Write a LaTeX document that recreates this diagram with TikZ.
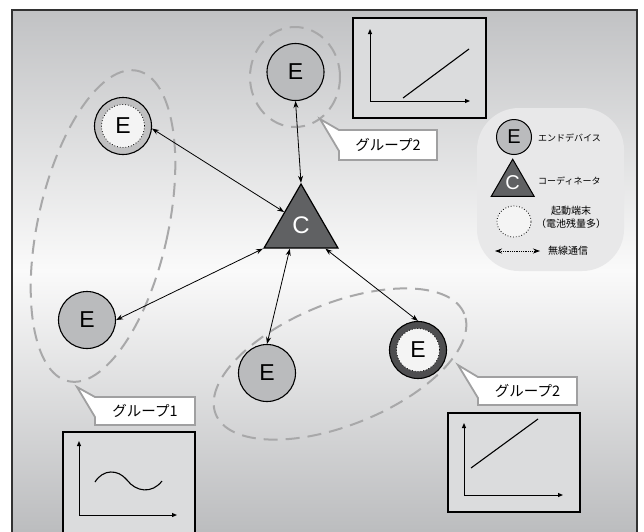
\documentclass[tikz,border=0pt]{standalone}
\usepackage{fontspec}
\setmainfont{Liberation Sans}
\newfontfamily\jpf{Noto Sans CJK JP}
\usetikzlibrary{arrows.meta,shapes.geometric}
\definecolor{bgtop}{RGB}{193,194,196}
\definecolor{bgmid}{RGB}{250,250,250}
\definecolor{bgbot}{RGB}{188,189,191}
\definecolor{framecol}{RGB}{50,50,50}
\definecolor{egray}{RGB}{186,187,189}
\definecolor{ringlight}{RGB}{192,192,193}
\definecolor{ringdark}{RGB}{78,78,80}
\definecolor{innerw}{RGB}{244,244,244}
\definecolor{tri}{RGB}{96,97,99}
\definecolor{blob}{RGB}{232,232,233}
\definecolor{dashc}{RGB}{168,168,169}
\definecolor{callc}{RGB}{160,160,161}
\definecolor{boxfill}{RGB}{219,220,221}
\newcommand\Efnt{\fontsize{23}{23}\selectfont}
\newcommand\Cfnt{\fontsize{24}{24}\selectfont}
\newcommand\LEfnt{\fontsize{20}{20}\selectfont}
\newcommand\Lblfnt{\jpf\fontsize{14.5}{15}\selectfont}
\newcommand\Legfnt{\jpf\fontsize{9}{10}\selectfont}
\newcommand\Legfntb{\jpf\fontsize{10}{13}\selectfont}
\begin{document}
\begin{tikzpicture}[x=1pt,y=-1pt,
  enode/.style={circle,draw,line width=1.1pt,minimum size=57pt,inner sep=0pt,fill=egray,font=\Efnt},
  ringlt/.style={enode,fill=ringlight},
  ringdk/.style={enode,fill=ringdark},
  innernode/.style={circle,draw,dotted,line width=0.8pt,minimum size=43pt,inner sep=0pt,fill=innerw,font=\Efnt},
  conn/.style={{Stealth[length=7pt,width=5pt]}-{Stealth[length=7pt,width=5pt]},line width=0.8pt},
  grp/.style={draw=dashc,line width=2pt,dash pattern=on 14pt off 8pt},
  callout/.style={fill=white,draw=callc,line width=1.8pt,line join=miter},
  lbl/.style={font=\Lblfnt,inner sep=0pt},
  gbox/.style={draw=black,line width=1.2pt,fill=boxfill},
  axis/.style={-{Triangle[length=5pt,width=4pt]},line width=1pt},
  curve/.style={line width=1.1pt}
]
\useasboundingbox (0,0) rectangle (644,531);
\fill[white] (0,0) rectangle (644,531);
\shade[top color=bgtop,bottom color=bgbot,middle color=bgmid] (12,10) rectangle (637,531);
\draw[framecol,line width=1.5pt] (12,540) -- (12,10) -- (637,10) -- (637,540);

% group outlines
\draw[grp] (295,77) ellipse [x radius=45pt, y radius=50pt];
\draw[grp,rotate around={-12.6:(103,226)}] (103,226) ellipse [x radius=65pt, y radius=159pt];
\draw[grp,rotate around={22:(340,364)}] (340,364) ellipse [x radius=134pt, y radius=61pt];

% graph boxes
\draw[gbox] (353,18) rectangle (486,118);
\draw[axis] (370,101) -- (370,29);
\draw[axis] (370,101) -- (470,101);
\draw[curve] (403,98) -- (469,49);

\draw[gbox] (63,432) rectangle (195,545);
\draw[axis] (79,515) -- (79,441);
\draw[axis] (79,515) -- (177,515);
\draw[curve] (95,482) .. controls (103,469) and (118,469) .. (127,480) .. controls (136,492) and (152,494) .. (162,481);

\draw[gbox] (448,413) rectangle (580,512);
\draw[axis] (464,495) -- (464,423);
\draw[axis] (464,495) -- (563,495);
\draw[curve] (471,468) -- (538,419);

% callouts
\draw[callout] (320,119) -- (339,130) -- (437,130) -- (437,160) -- (339,160) -- (339,151) -- cycle;
\node[lbl] (L1) at (388,145) {グループ2};
\draw[callout] (77,387) -- (95,397) -- (195,397) -- (195,425) -- (95,425) -- (95,417) -- cycle;
\node[lbl] (L2) at (145,411) {グループ1};
\draw[callout] (458,365) -- (478,377) -- (577,377) -- (577,405) -- (478,405) -- (478,398) -- cycle;
\node[lbl] (L3) at (527.5,391) {グループ2};

% legend
\fill[blob,rounded corners=42pt] (477,108) rectangle (624,271);
\node[enode,minimum size=35pt,line width=1pt,font=\LEfnt] (LE) at (514,137) {E};
\node[anchor=west,font=\Legfnt,inner sep=0pt] (LEt) at (538,138) {エンドデバイス};
\node[regular polygon,regular polygon sides=3,minimum size=49.6pt,inner sep=0pt,draw,line width=1pt,fill=tri,text=white,font=\LEfnt] (LC) at (512.7,184) {};
\node[text=white,font=\LEfnt,inner sep=0pt] (LCt) at (512.7,183) {C};
\node[anchor=west,font=\Legfnt,inner sep=0pt] (LCtx) at (538,181) {コーディネータ};
\draw[dotted,line width=0.8pt,fill=innerw] (514,221.5) ellipse [x radius=17pt, y radius=15.5pt];
\node[align=center,font=\Legfntb,inner sep=0pt] (LD) at (571,217.5) {起動端末\\（電池残量多）};
\coordinate (LAa) at (495,251);
\coordinate (LAb) at (540,251);
\draw[{Stealth[length=7pt,width=5pt]}-{Stealth[length=7pt,width=5pt]},line width=0.8pt,dash pattern=on 1pt off 0.8pt] (LAa) -- (LAb);
\node[anchor=west,font=\Legfntb,inner sep=0pt] (LAt) at (548,251) {無線通信};

% coordinator
\node[regular polygon,regular polygon sides=3,minimum size=85.4pt,inner sep=0pt,draw,line width=1.2pt,fill=tri] (C) at (301,226.7) {};
\node[text=white,font=\Cfnt,inner sep=0pt] (Ct) at (301,225) {C};

% end devices
\node[enode] (E0) at (295.5,72) {E};
\node[ringlt] (E1) at (123,126) {};
\node[innernode] (E1i) at (123,126) {E};
\node[enode] (E2) at (87,320) {E};
\node[enode] (E3) at (267,373) {E};
\node[ringdk] (E4) at (418,350) {};
\node[innernode] (E4i) at (418,350) {E};

% links
\draw[conn] (E0.south) -- (C.corner 1);
\draw[conn] (E1.-5) -- (C.139);
\draw[conn] (E2.east) -- (C.corner 2);
\draw[conn] (E3.north) -- (C.243);
\draw[conn] (E4.north) -- (C.318);
\end{tikzpicture}
\end{document}
